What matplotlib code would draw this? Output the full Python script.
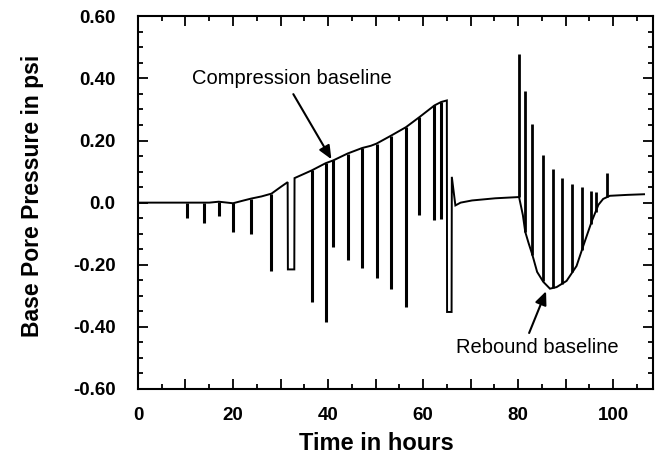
import matplotlib
matplotlib.use('Agg')
import matplotlib.pyplot as plt
import numpy as np
from matplotlib.ticker import MultipleLocator

# pressure trace (baseline, including the two square drops)
trace_t = [0, 5, 10, 15, 17, 20, 22, 23.8, 26, 28.1, 30, 31.5, 31.55, 32.9, 32.95,
           35, 36.6, 39.5, 41.1, 44.1, 47.2, 49, 50.2, 53.3, 56.4, 59.2, 62.4, 63.8,
           65.0, 65.05, 66.0, 66.05, 66.8, 67.9, 70.3, 75.2, 80.2, 81.0, 81.5, 82.2,
           83.0, 84.0, 85.3, 86.7, 88.1, 90.2, 92.3, 93.7, 95.5, 96.9, 97.9, 99.3,
           103, 106.5]
trace_p = [0, 0, 0, 0, 0.003, -0.002, 0.006, 0.013, 0.02, 0.029, 0.05, 0.066, -0.215,
           -0.215, 0.079, 0.093, 0.104, 0.127, 0.136, 0.158, 0.176, 0.183, 0.19, 0.216,
           0.243, 0.275, 0.313, 0.324, 0.329, -0.352, -0.352, 0.083, -0.009, 0.0, 0.007,
           0.014, 0.018, -0.04, -0.094, -0.13, -0.168, -0.223, -0.255, -0.277, -0.272,
           -0.252, -0.204, -0.14, -0.06, -0.007, 0.012, 0.022, 0.025, 0.027]

# compression spikes (downward)
comp_t = [10.4, 14.0, 17.1, 20.1, 23.8, 28.1, 36.6, 39.6, 41.1, 44.1, 47.2, 50.2,
          53.3, 56.4, 59.2, 62.4, 63.8]
comp_tip = [-0.051, -0.065, -0.044, -0.094, -0.10, -0.221, -0.32, -0.384, -0.143,
            -0.185, -0.21, -0.242, -0.279, -0.335, -0.041, -0.057, -0.054]

# rebound spikes (upward)
reb_t = [80.2, 81.5, 83.0, 85.2, 87.3, 89.3, 91.4, 93.4, 95.3, 96.3, 98.7]
reb_tip = [0.479, 0.358, 0.254, 0.154, 0.107, 0.079, 0.061, 0.05, 0.036, 0.034, 0.096]

y_ticks = [0.6, 0.4, 0.2, 0.0, -0.2, -0.4, -0.6]
y_labels = ['0.60', '0.40', '0.20', '0.0', '-0.20', '-0.40', '-0.60']
x_ticks = [0, 20, 40, 60, 80, 100]
x_labels = ['0', '20', '40', '60', '80', '100']

plt.rcParams['font.family'] = ['Liberation Sans', 'DejaVu Sans']

fig = plt.figure(figsize=(6.57, 4.73), dpi=100)
ax = fig.add_axes([0.210, 0.1776, 0.784, 0.788])

ax.plot(trace_t, trace_p, color='black', lw=1.4, solid_joinstyle='miter')

comp_base = np.interp(comp_t, trace_t, trace_p)
ax.vlines(comp_t, comp_base, comp_tip, color='black', lw=2.2)
reb_base = np.interp(reb_t, trace_t, trace_p)
ax.vlines(reb_t, reb_base, reb_tip, color='black', lw=2.0)

ax.set_xlim(0, 108.4)
ax.set_ylim(-0.6, 0.6)

# big ticks every 10 h, labels only every 20 h
big_x = np.arange(0, 110, 10)
ax.set_xticks(big_x)
ax.set_xticklabels([x_labels[x_ticks.index(v)] if v in x_ticks else '' for v in big_x])
ax.set_yticks(y_ticks)
ax.set_yticklabels(y_labels)
ax.xaxis.set_minor_locator(MultipleLocator(5))
ax.yaxis.set_minor_locator(MultipleLocator(0.05))
ax.tick_params(which='both', direction='in', top=True, right=True, width=1.3)
ax.tick_params(which='major', length=7)
ax.tick_params(which='minor', length=3.5)
ax.tick_params(axis='y', which='major', pad=16, labelsize=13.5)
ax.tick_params(axis='x', which='major', pad=13, labelsize=13.5)
for lab in ax.get_xticklabels() + ax.get_yticklabels():
    lab.set_fontweight('bold')
for s in ax.spines.values():
    s.set_linewidth(1.5)

fig.text(33 / 657, 1 - 196 / 473, 'Base Pore Pressure in psi', rotation=90,
         ha='center', va='center', fontsize=16.5, fontweight='bold')
fig.text(376 / 657, 1 - 443 / 473, 'Time in hours', ha='center', va='center',
         fontsize=17, fontweight='bold')

ax.text(32.4, 0.399, 'Compression baseline', ha='center', va='center', fontsize=14.5)
ax.annotate('', xy=(41, 0.132), xytext=(32.4, 0.357),
            arrowprops=dict(arrowstyle='-|>,head_length=0.8,head_width=0.35',
                            color='black', lw=1.5))
ax.text(84.0, -0.466, 'Rebound baseline', ha='center', va='center', fontsize=14.5)
ax.annotate('', xy=(86.1, -0.277), xytext=(82.1, -0.428),
            arrowprops=dict(arrowstyle='-|>,head_length=0.8,head_width=0.35',
                            color='black', lw=1.5))

fig.savefig('out.png', dpi=100)
